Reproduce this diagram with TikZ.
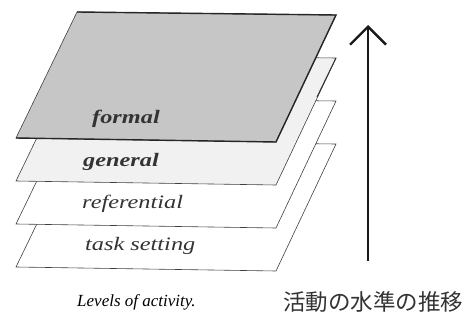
\documentclass[tikz,border=0pt]{standalone}
\usepackage{fontspec}
\setmainfont{Liberation Serif}
\newfontfamily\widefont[FakeStretch=1.28]{Liberation Serif}
\newfontfamily\cjk{Noto Sans CJK JP}
\usetikzlibrary{arrows.meta}
\definecolor{formalgray}{HTML}{C6C6C6}
\definecolor{generalgray}{HTML}{F1F1F1}
\tikzset{
  layer/.style={draw=black!75, line width=0.6pt, line join=miter},
  lbl/.style={font=\fontsize{19}{19}\selectfont\widefont\itshape, text=black!80, anchor=west, inner sep=0pt},
  blbl/.style={lbl, font=\fontsize{19}{19}\selectfont\widefont\bfseries\itshape},
  captext/.style={font=\fontsize{17}{17}\selectfont\itshape, inner sep=0pt, anchor=west},
  jcap/.style={font=\fontsize{22.5}{22.5}\selectfont\cjk, inner sep=0pt, anchor=west, text=black!80},
  uparrow/.style={line width=2.4pt, -{Straight Barb[length=18pt,width=36pt,line width=2.4pt]}}
}
\begin{document}
\begin{tikzpicture}[x=1pt,y=-1pt]
\useasboundingbox (0,0) rectangle (470,323);
% layers from bottom to top
\foreach \i/\fc in {3/white,2/white,1/generalgray,0/formalgray}{
  \pgfmathsetmacro\dy{43*\i}
  \filldraw[layer, fill=\fc] (16,138+\dy) -- (276,142+\dy) -- (336,15+\dy) -- (77,12+\dy) -- cycle;
}
% heavier edges on formal sheet
\draw[line width=1.4pt, black!85] (16,138) -- (276,142) -- (336,15) -- (77,12);
\draw[line width=1pt, black!80] (336,58) -- (317,97);
% labels
\node[blbl] (formal) at (92,119) {formal};
\node[blbl] (general) at (83,162) {general};
\node[lbl] (referential) at (82,204) {referential};
\node[lbl] (task) at (85,246) {task setting};
% captions
\node[captext] (levels) at (77,302) {Levels of activity.};
\node[jcap] (jp) at (283,302) {活動の水準の推移};
% arrow
\coordinate (abot) at (368,261);
\coordinate (atop) at (368,25);
\draw[uparrow, black!90] (abot) -- (atop);
\end{tikzpicture}
\end{document}
